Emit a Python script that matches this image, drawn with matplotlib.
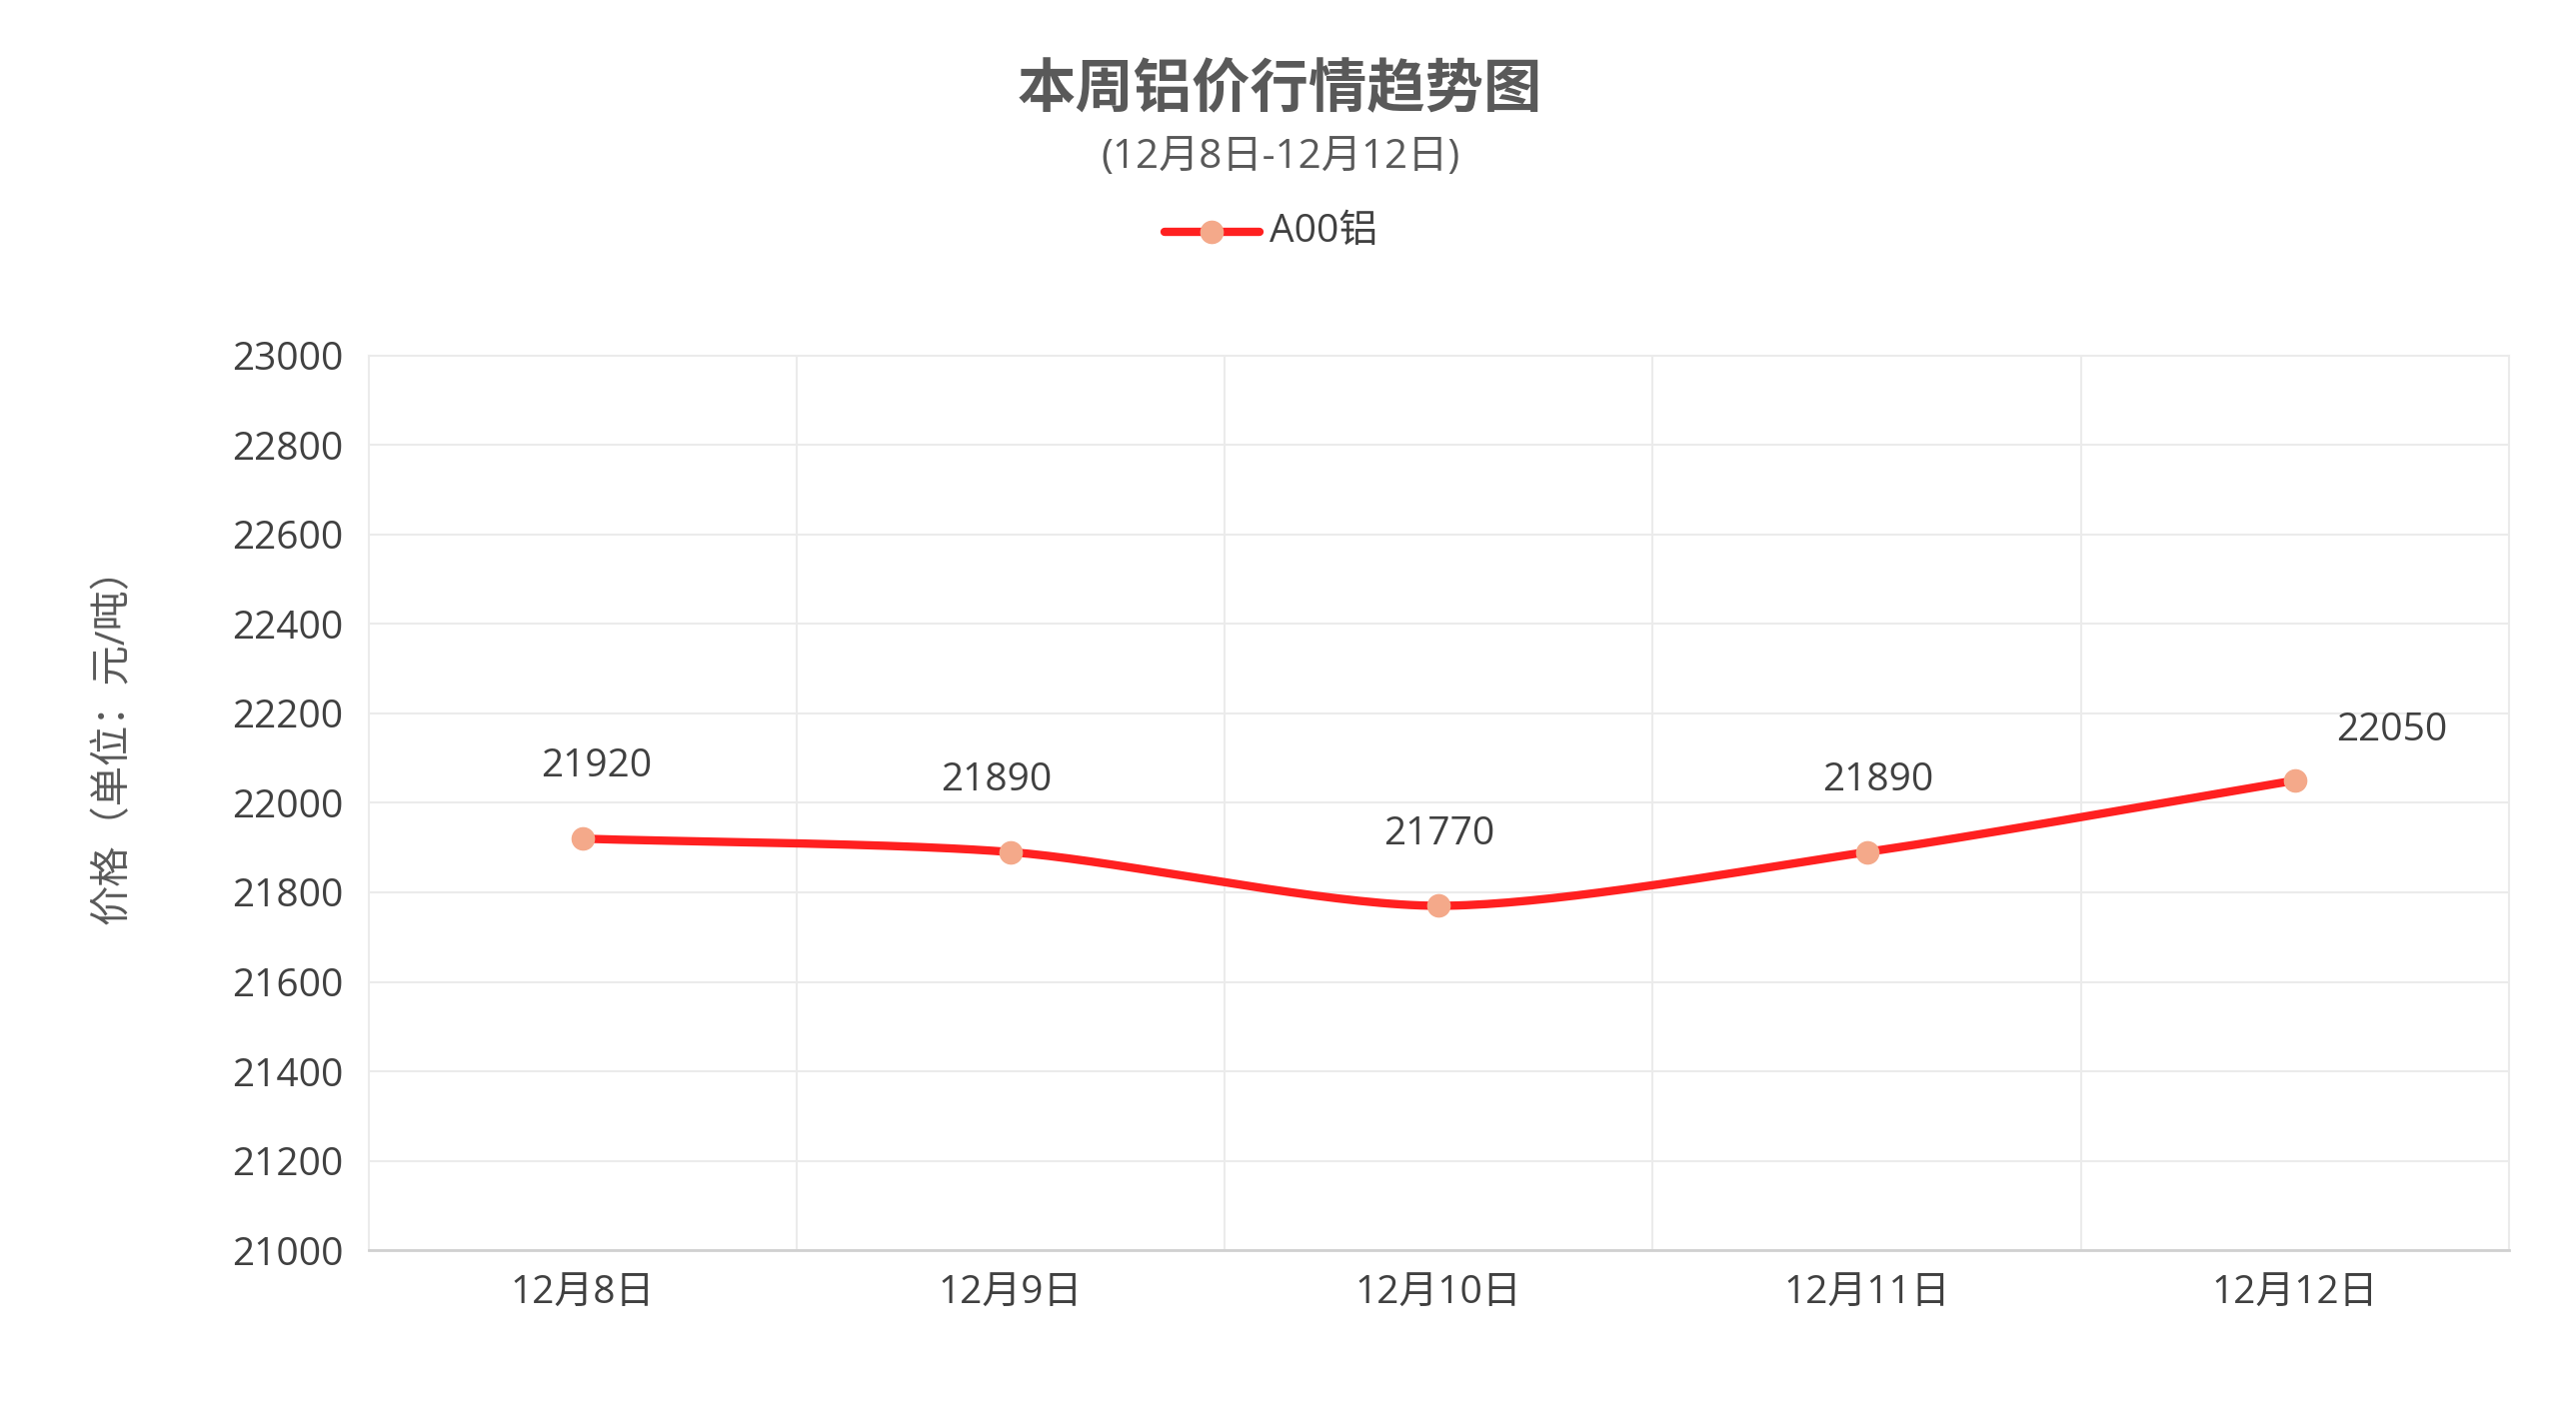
import numpy as np
import matplotlib
matplotlib.use("Agg")
import matplotlib.pyplot as plt

plt.rcParams['font.family'] = ['Open Sans', 'Noto Sans CJK SC', 'DejaVu Sans']

dates = ["12月8日", "12月9日", "12月10日", "12月11日", "12月12日"]
prices = [21920, 21890, 21770, 21890, 22050]
series_name = "A00铝"


def smooth(xs, ys, n=40):
    # catmull-rom style curve through the points, only for drawing
    xs = np.asarray(xs, float)
    ys = np.asarray(ys, float)
    px = np.concatenate([[2 * xs[0] - xs[1]], xs, [2 * xs[-1] - xs[-2]]])
    py = np.concatenate([[2 * ys[0] - ys[1]], ys, [2 * ys[-1] - ys[-2]]])
    outx, outy = [], []
    t = np.linspace(0, 1, n)
    for i in range(1, len(px) - 2):
        for p, out in ((px, outx), (py, outy)):
            p0, p1, p2, p3 = p[i - 1], p[i], p[i + 1], p[i + 2]
            m1 = (p2 - p0) / 2 * 0.8
            m2 = (p3 - p1) / 2 * 0.8
            h00 = 2 * t**3 - 3 * t**2 + 1
            h10 = t**3 - 2 * t**2 + t
            h01 = -2 * t**3 + 3 * t**2
            h11 = t**3 - t**2
            out.extend(h00 * p1 + h10 * m1 + h01 * p2 + h11 * m2)
    return outx, outy


fig = plt.figure(figsize=(25.77, 14.17), dpi=100)
ax = fig.add_axes([0.143, 0.117, 0.831, 0.632])

x = np.arange(len(dates))
sx, sy = smooth(x, prices)
ax.plot(sx, sy, color="#FF2020", lw=6, solid_capstyle="round", zorder=3)
ax.plot(x, prices, "o", color="#F4A98A", ms=16, zorder=4)
offsets = [(10, 38), (-10, 38), (0, 38), (8, 38), (70, 22)]
for xi, yi, (dx, dy) in zip(x, prices, offsets):
    ax.annotate(str(yi), (xi, yi), xytext=(dx, dy), textcoords="offset points",
                ha="center", va="bottom", fontsize=28, color="#404040")

ax.set_xlim(-0.5, len(dates) - 0.5)
ax.set_ylim(21000, 23000)
ax.set_yticks(np.arange(21000, 23001, 200))
ax.set_xticks(x)
ax.set_xticklabels(dates)
ax.set_xticks(np.arange(0.5, len(dates) - 0.5, 1), minor=True)
ax.grid(True, axis="y", color="#EBEBEB", lw=1.5)
ax.grid(True, axis="x", which="minor", color="#EBEBEB", lw=1.5)
ax.tick_params(axis="both", which="both", length=0, labelsize=28,
               labelcolor="#404040", pad=18)
for side in ("top", "right", "left"):
    ax.spines[side].set_color("#EBEBEB")
    ax.spines[side].set_linewidth(1.5)
ax.spines["bottom"].set_color("#D0D0D0")
ax.spines["bottom"].set_linewidth(2)
ax.set_axisbelow(True)

fig.text(0.044, 0.48, "价格（单位：元/吨）", rotation=90, ha="center", va="center",
         fontsize=29, color="#595959")
fig.text(0.497, 0.935, "本周铝价行情趋势图", ha="center", va="center",
         fontsize=42, fontweight="bold", color="#595959")
fig.text(0.497, 0.889, "(12月8日-12月12日)", ha="center", va="center",
         fontsize=29, color="#595959")

# legend
lx0, lx1, ly = 0.452, 0.489, 0.836
fig.add_artist(plt.Line2D([lx0, lx1], [ly, ly], color="#FF2020", lw=6,
                          solid_capstyle="round", transform=fig.transFigure))
fig.add_artist(plt.Line2D([(lx0 + lx1) / 2], [ly], marker="o", color="#F4A98A",
                          ms=16, transform=fig.transFigure))
fig.text(lx1 + 0.004, ly, series_name, ha="left", va="center", fontsize=28,
         color="#404040")

fig.savefig("out.png", dpi=100, facecolor="white")
